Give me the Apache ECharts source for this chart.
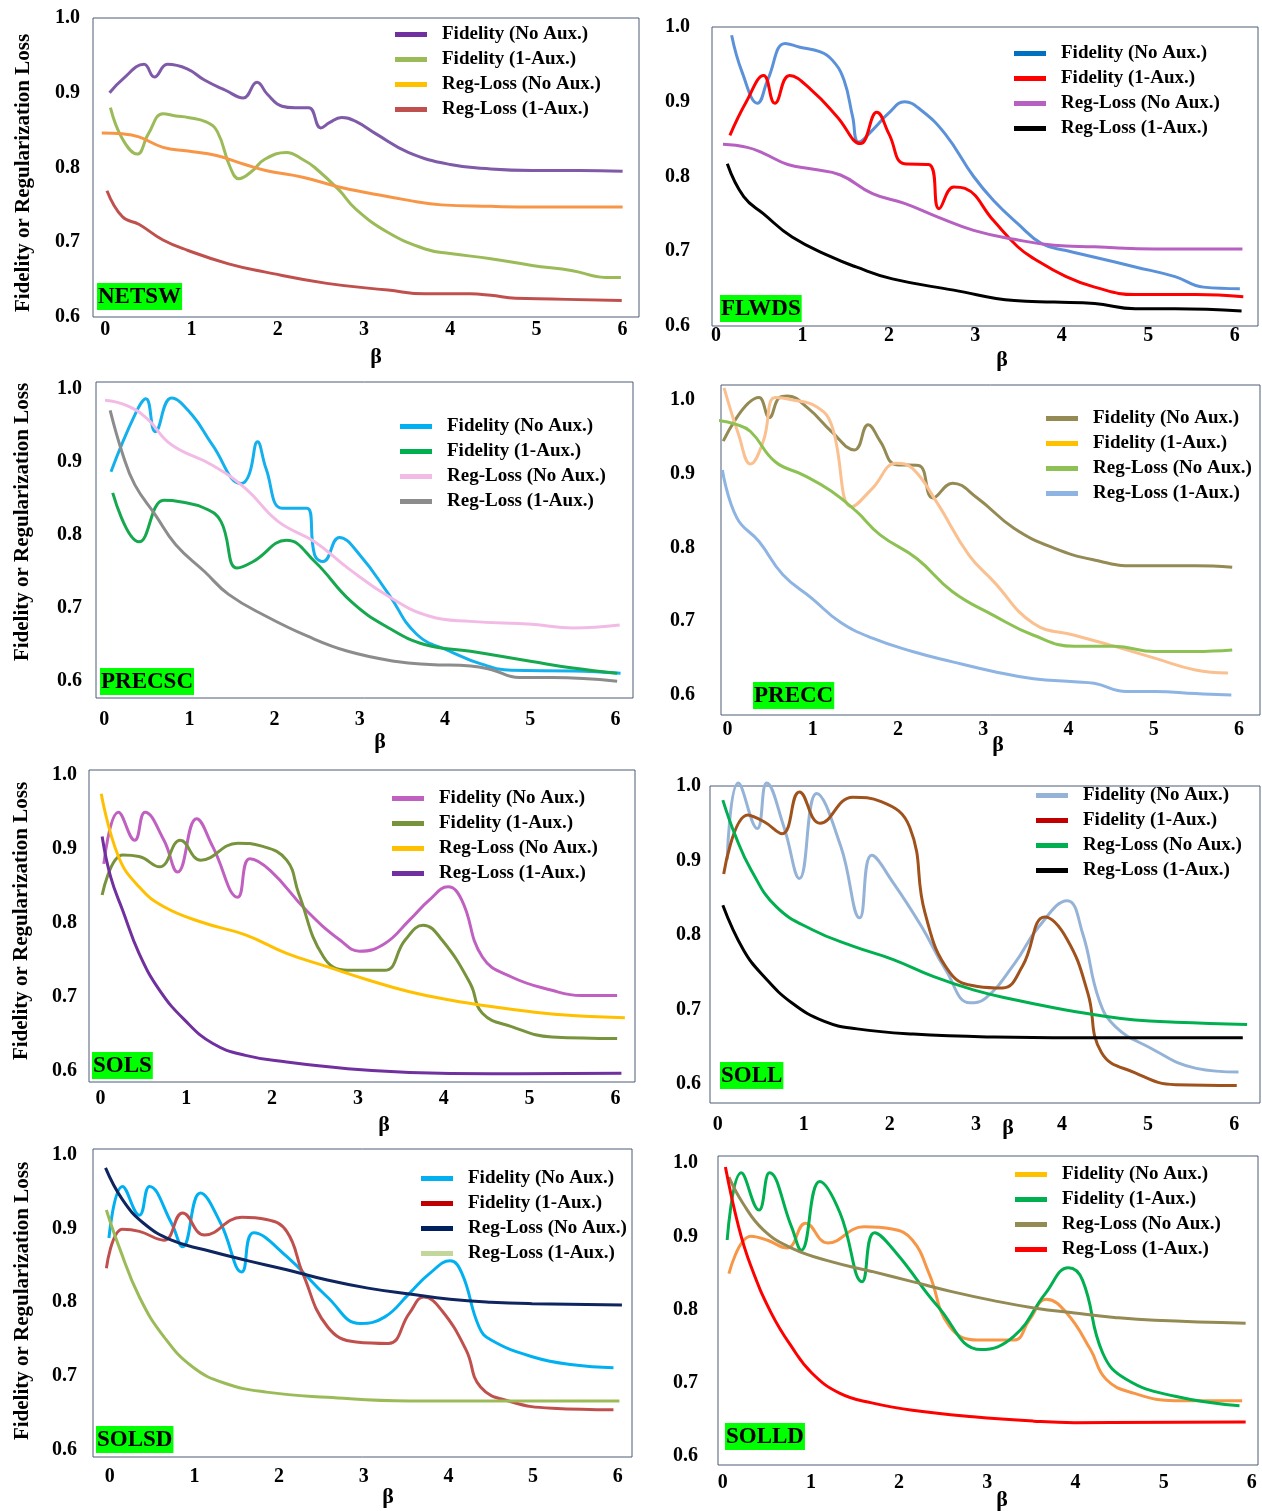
<!DOCTYPE html>
<html>
<head>
<meta charset="utf-8">
<script src="https://cdn.jsdelivr.net/npm/echarts@6/dist/echarts.min.js"></script>
<style>
  html, body { margin: 0; padding: 0; background: #fff; }
  #chart { width: 1262px; height: 1511px; }
</style>
</head>
<body>
<div id="chart"></div>
<script>
// ---- Tick labels and names ----
const xTickLabels = [0, 1, 2, 3, 4, 5, 6];
const yTickLabels = [0.6, 0.7, 0.8, 0.9, 1.0];
const seriesNames = ['Fidelity (No Aux.)', 'Fidelity (1-Aux.)', 'Reg-Loss (No Aux.)', 'Reg-Loss (1-Aux.)'];
const panelTags = ['NETSW', 'FLWDS', 'PRECSC', 'PRECC', 'SOLS', 'SOLL', 'SOLSD', 'SOLLD'];

// ---- NETSW: [beta, value] ----
const netswFidNoAux = [[0.05,0.900],[0.2,0.918],[0.45,0.938],[0.57,0.921],[0.72,0.938],[0.95,0.932],[1.15,0.917],[1.4,0.903],[1.6,0.893],[1.76,0.914],[1.88,0.898],[2.05,0.882],[2.2,0.880],[2.36,0.880],[2.5,0.853],[2.6,0.860],[2.74,0.867],[2.9,0.862],[3.14,0.845],[3.52,0.820],[4.0,0.804],[4.47,0.798],[4.95,0.796],[5.5,0.796],[6.0,0.795]];
const netswFid1Aux = [[0.06,0.880],[0.2,0.838],[0.37,0.818],[0.5,0.845],[0.67,0.872],[0.82,0.869],[0.96,0.867],[1.17,0.861],[1.3,0.848],[1.45,0.800],[1.55,0.785],[1.7,0.795],[1.85,0.811],[2.1,0.820],[2.3,0.810],[2.43,0.800],[2.71,0.770],[2.9,0.745],[3.28,0.713],[3.71,0.691],[4.0,0.685],[4.47,0.678],[4.95,0.669],[5.42,0.662],[5.8,0.653],[5.98,0.653]];
const netswRegNoAux = [[-0.04,0.846],[0.2,0.845],[0.39,0.841],[0.67,0.827],[0.96,0.822],[1.29,0.816],[1.62,0.804],[1.86,0.796],[2.29,0.787],[2.71,0.774],[3.05,0.766],[3.52,0.756],[3.9,0.750],[4.47,0.748],[4.95,0.747],[6.0,0.747]];
const netswReg1Aux = [[0.02,0.769],[0.2,0.734],[0.39,0.724],[0.67,0.703],[0.96,0.689],[1.43,0.671],[1.86,0.660],[2.57,0.645],[3.28,0.636],[3.71,0.631],[4.23,0.631],[4.47,0.629],[4.76,0.625],[5.18,0.624],[5.99,0.622]];

// ---- FLWDS ----
const flwdsFidNoAux = [[0.18,0.989],[0.3,0.940],[0.48,0.898],[0.6,0.930],[0.8,0.978],[0.97,0.973],[1.2,0.967],[1.35,0.955],[1.48,0.929],[1.58,0.880],[1.65,0.846],[1.81,0.862],[2.0,0.885],[2.18,0.900],[2.37,0.889],[2.65,0.857],[2.98,0.800],[3.21,0.768],[3.49,0.737],[3.77,0.710],[4.05,0.701],[4.38,0.692],[4.85,0.679],[5.31,0.666],[5.64,0.652],[6.06,0.650]];
const flwdsFid1Aux = [[0.16,0.855],[0.35,0.900],[0.55,0.935],[0.68,0.898],[0.85,0.935],[1.11,0.915],[1.4,0.880],[1.67,0.844],[1.86,0.886],[2.0,0.857],[2.18,0.817],[2.46,0.816],[2.58,0.757],[2.75,0.786],[2.88,0.784],[3.21,0.741],[3.49,0.706],[3.68,0.690],[4.05,0.666],[4.38,0.652],[4.85,0.642],[5.55,0.642],[6.1,0.639]];
const flwdsRegNoAux = [[0.08,0.843],[0.36,0.839],[0.55,0.831],[0.83,0.816],[1.11,0.810],[1.44,0.802],[1.81,0.777],[2.18,0.764],[2.56,0.746],[2.98,0.728],[3.45,0.716],[3.91,0.708],[4.38,0.706],[5.08,0.703],[6.09,0.703]];
const flwdsReg1Aux = [[0.13,0.817],[0.32,0.773],[0.55,0.750],[0.88,0.719],[1.34,0.692],[1.62,0.679],[2.04,0.663],[2.75,0.648],[3.45,0.634],[3.91,0.632],[4.38,0.630],[4.85,0.623],[5.31,0.623],[6.08,0.620]];

// ---- PRECSC ----
const precscFidNoAux = [[0.08,0.886],[0.36,0.964],[0.49,0.986],[0.6,0.941],[0.79,0.987],[1.03,0.964],[1.27,0.923],[1.61,0.870],[1.7,0.882],[1.8,0.927],[1.9,0.890],[2.09,0.836],[2.38,0.836],[2.47,0.772],[2.57,0.763],[2.76,0.796],[3.0,0.772],[3.34,0.718],[3.67,0.663],[4.06,0.640],[4.44,0.622],[4.78,0.614],[5.5,0.613],[6.06,0.610]];
const precscFid1Aux = [[0.1,0.857],[0.41,0.790],[0.7,0.847],[0.89,0.845],[1.18,0.836],[1.37,0.818],[1.56,0.754],[1.75,0.763],[2.14,0.792],[2.47,0.763],[2.9,0.708],[3.34,0.672],[3.77,0.649],[4.3,0.640],[5.02,0.626],[5.5,0.617],[6.02,0.610]];
const precscRegNoAux = [[0.01,0.984],[0.26,0.977],[0.5,0.959],[0.79,0.923],[1.27,0.895],[1.66,0.863],[2.04,0.818],[2.47,0.790],[2.86,0.754],[3.34,0.715],[3.82,0.688],[4.3,0.681],[5.02,0.677],[5.5,0.672],[6.05,0.676]];
const precscReg1Aux = [[0.07,0.970],[0.22,0.909],[0.36,0.868],[0.6,0.827],[0.84,0.786],[1.18,0.749],[1.46,0.718],[1.9,0.688],[2.38,0.661],[2.86,0.640],[3.43,0.626],[3.82,0.622],[4.3,0.620],[4.54,0.615],[4.87,0.604],[5.26,0.604],[6.02,0.599]];

// ---- PRECC ----
const preccFidNoAux = [[-0.05,0.944],[0.37,1.003],[0.49,0.976],[0.61,1.003],[0.7,1.005],[0.94,0.989],[1.22,0.957],[1.49,0.932],[1.65,0.966],[1.79,0.944],[1.98,0.912],[2.24,0.911],[2.41,0.867],[2.64,0.887],[2.93,0.867],[3.36,0.826],[3.83,0.799],[4.3,0.783],[4.78,0.775],[5.49,0.775],[5.92,0.773]];
const preccFid1Aux = [[-0.04,1.016],[0.13,0.953],[0.27,0.913],[0.42,0.944],[0.56,1.003],[0.75,1.000],[1.04,0.991],[1.22,0.966],[1.46,0.855],[1.7,0.880],[1.98,0.914],[2.17,0.907],[2.45,0.862],[2.83,0.790],[3.12,0.754],[3.59,0.697],[4.07,0.681],[4.54,0.666],[5.01,0.650],[5.49,0.634],[5.87,0.630]];
const preccRegNoAux = [[-0.11,0.972],[0.09,0.967],[0.27,0.957],[0.56,0.916],[0.89,0.898],[1.22,0.876],[1.51,0.849],[1.79,0.817],[2.22,0.785],[2.64,0.740],[3.12,0.708],[3.59,0.681],[4.07,0.666],[4.54,0.666],[5.01,0.659],[5.49,0.659],[5.92,0.661]];
const preccReg1Aux = [[-0.06,0.905],[0.11,0.840],[0.37,0.808],[0.65,0.763],[0.99,0.731],[1.32,0.699],[1.7,0.677],[2.17,0.659],[2.64,0.645],[3.12,0.632],[3.59,0.622],[4.07,0.618],[4.3,0.616],[4.68,0.605],[5.01,0.605],[5.49,0.602],[5.91,0.600]];

// ---- SOLS ----
const solsFidNoAux = [[0.04,0.880],[0.21,0.950],[0.4,0.912],[0.52,0.950],[0.74,0.912],[0.9,0.869],[1.12,0.941],[1.31,0.903],[1.6,0.835],[1.74,0.887],[1.98,0.871],[2.4,0.817],[2.79,0.777],[3.02,0.762],[3.31,0.772],[3.6,0.804],[3.83,0.831],[4.05,0.849],[4.21,0.831],[4.45,0.754],[4.79,0.727],[5.26,0.709],[5.6,0.702],[6.02,0.702]];
const solsFid1Aux = [[0.02,0.838],[0.26,0.892],[0.45,0.890],[0.69,0.876],[0.93,0.912],[1.17,0.885],[1.6,0.908],[1.88,0.904],[2.17,0.885],[2.31,0.840],[2.6,0.754],[2.88,0.736],[3.31,0.736],[3.55,0.777],[3.76,0.797],[3.98,0.777],[4.31,0.718],[4.45,0.678],[4.79,0.660],[5.26,0.646],[6.02,0.644]];
const solsRegNoAux = [[0.01,0.975],[0.21,0.890],[0.45,0.849],[0.74,0.822],[1.21,0.800],[1.69,0.784],[2.17,0.759],[2.64,0.741],[3.12,0.723],[3.6,0.707],[4.07,0.696],[4.55,0.687],[5.02,0.680],[5.5,0.675],[6.11,0.672]];
const solsReg1Aux = [[0.02,0.917],[0.12,0.862],[0.26,0.817],[0.45,0.759],[0.69,0.709],[0.98,0.669],[1.31,0.637],[1.69,0.621],[2.17,0.612],[2.88,0.603],[3.6,0.598],[4.55,0.596],[6.07,0.597]];

// ---- SOLL ----
const sollFidNoAux = [[0.11,0.901],[0.24,1.004],[0.46,0.943],[0.57,1.004],[0.77,0.945],[0.95,0.876],[1.15,0.990],[1.43,0.919],[1.65,0.823],[1.79,0.907],[2.04,0.870],[2.37,0.811],[2.65,0.753],[2.93,0.709],[3.11,0.715],[3.45,0.762],[3.73,0.811],[4.06,0.846],[4.24,0.802],[4.43,0.713],[4.62,0.677],[5.0,0.650],[5.56,0.621],[6.05,0.616]];
const sollFid1Aux = [[0.07,0.882],[0.35,0.961],[0.54,0.952],[0.75,0.936],[0.95,0.992],[1.19,0.950],[1.57,0.985],[1.9,0.979],[2.23,0.945],[2.41,0.829],[2.7,0.749],[3.02,0.731],[3.31,0.729],[3.54,0.758],[3.8,0.824],[4.06,0.794],[4.3,0.722],[4.46,0.642],[4.85,0.615],[5.32,0.599],[6.03,0.598]];
const sollRegNoAux = [[0.06,0.981],[0.21,0.932],[0.39,0.887],[0.68,0.838],[1.1,0.807],[1.57,0.785],[2.04,0.767],[2.51,0.744],[2.98,0.726],[3.45,0.713],[3.92,0.702],[4.38,0.693],[4.85,0.686],[5.32,0.683],[6.15,0.680]];
const sollReg1Aux = [[0.06,0.840],[0.3,0.780],[0.54,0.744],[0.86,0.709],[1.24,0.684],[1.62,0.674],[2.27,0.667],[3.21,0.663],[4.15,0.662],[6.1,0.662]];

// ---- SOLSD ----
const solsdFidNoAux = [[-0.01,0.887],[0.15,0.957],[0.35,0.918],[0.47,0.957],[0.73,0.907],[0.86,0.875],[1.07,0.948],[1.31,0.907],[1.56,0.841],[1.7,0.894],[2.09,0.862],[2.57,0.807],[2.96,0.771],[3.25,0.780],[3.54,0.812],[3.78,0.839],[4.02,0.856],[4.16,0.839],[4.36,0.767],[4.5,0.749],[4.99,0.726],[5.47,0.715],[5.95,0.711]];
const solsdFid1Aux = [[-0.04,0.846],[0.15,0.899],[0.35,0.896],[0.64,0.884],[0.86,0.921],[1.12,0.891],[1.56,0.915],[1.85,0.912],[2.09,0.896],[2.28,0.839],[2.57,0.767],[2.91,0.746],[3.29,0.744],[3.54,0.785],[3.71,0.807],[3.92,0.789],[4.21,0.735],[4.38,0.685],[4.74,0.665],[5.23,0.656],[5.95,0.654]];
const solsdRegNoAux = [[-0.05,0.982],[0.15,0.939],[0.4,0.907],[0.73,0.884],[1.12,0.871],[1.6,0.857],[2.09,0.844],[2.57,0.830],[3.05,0.819],[3.54,0.811],[4.02,0.804],[4.5,0.800],[4.99,0.798],[6.05,0.796]];
const solsdReg1Aux = [[-0.04,0.925],[0.11,0.875],[0.35,0.807],[0.64,0.753],[0.98,0.712],[1.36,0.690],[1.85,0.678],[2.57,0.671],[3.54,0.666],[6.02,0.666]];

// ---- SOLLD ----
const solldFidNoAux = [[0.07,0.849],[0.32,0.900],[0.5,0.895],[0.73,0.884],[0.94,0.918],[1.19,0.891],[1.6,0.913],[1.92,0.910],[2.15,0.895],[2.34,0.849],[2.57,0.777],[2.89,0.758],[3.3,0.758],[3.48,0.786],[3.67,0.814],[3.9,0.795],[4.17,0.745],[4.35,0.704],[4.67,0.685],[5.13,0.675],[5.89,0.675]];
const solldFid1Aux = [[0.05,0.895],[0.21,0.987],[0.41,0.936],[0.53,0.987],[0.78,0.913],[0.89,0.881],[1.1,0.975],[1.33,0.932],[1.58,0.838],[1.72,0.905],[1.97,0.877],[2.44,0.804],[2.93,0.745],[3.3,0.763],[3.66,0.822],[3.92,0.857],[4.08,0.840],[4.31,0.740],[4.58,0.704],[5.13,0.681],[5.86,0.668]];
const solldRegNoAux = [[0.07,0.981],[0.23,0.945],[0.46,0.909],[0.78,0.884],[1.24,0.865],[1.69,0.852],[2.15,0.838],[2.61,0.824],[3.07,0.812],[3.53,0.802],[3.99,0.795],[4.44,0.789],[4.9,0.785],[5.93,0.781]];
const solldReg1Aux = [[0.03,0.995],[0.18,0.913],[0.32,0.859],[0.55,0.795],[0.78,0.749],[1.01,0.713],[1.33,0.685],[1.69,0.672],[2.15,0.662],[2.84,0.653],[3.53,0.647],[3.99,0.645],[5.93,0.646]];

const panelSeries = [
  [netswFidNoAux, netswFid1Aux, netswRegNoAux, netswReg1Aux],
  [flwdsFidNoAux, flwdsFid1Aux, flwdsRegNoAux, flwdsReg1Aux],
  [precscFidNoAux, precscFid1Aux, precscRegNoAux, precscReg1Aux],
  [preccFidNoAux, preccFid1Aux, preccRegNoAux, preccReg1Aux],
  [solsFidNoAux, solsFid1Aux, solsRegNoAux, solsReg1Aux],
  [sollFidNoAux, sollFid1Aux, sollRegNoAux, sollReg1Aux],
  [solsdFidNoAux, solsdFid1Aux, solsdRegNoAux, solsdReg1Aux],
  [solldFidNoAux, solldFid1Aux, solldRegNoAux, solldReg1Aux]
];

// ---- Styling: line colours and legend swatch colours per panel ----
const lineColors = [
  ['#7F5AA8', '#9BBB59', '#F79646', '#C0504D'],
  ['#5B91D9', '#FF0000', '#B660C2', '#000000'],
  ['#14B0EE', '#16A84E', '#F2BBE6', '#8C8C8C'],
  ['#948A54', '#FAC090', '#8DC153', '#8DB4E2'],
  ['#C060C0', '#77933C', '#FFC000', '#7030A0'],
  ['#95B3D7', '#A0521C', '#00B050', '#000000'],
  ['#00B0F0', '#C0504D', '#0F2560', '#9BBB59'],
  ['#F79646', '#00B050', '#948A54', '#FF0000']
];
const swatchColors = [
  ['#7030A0', '#9BBB59', '#FFC000', '#C0504D'],
  ['#0070C0', '#FF0000', '#B660C2', '#000000'],
  ['#00B0F0', '#00B050', '#F2BBE6', '#8C8C8C'],
  ['#948A54', '#FFC000', '#8DC153', '#8DB4E2'],
  ['#C060C0', '#77933C', '#FFC000', '#7030A0'],
  ['#95B3D7', '#C00000', '#00B050', '#000000'],
  ['#00B0F0', '#C00000', '#002060', '#C3D69B'],
  ['#FFC000', '#00B050', '#948A54', '#FF0000']
];

// ---- Layout of each panel (pixels) and axis extents ----
const layouts = [
  { grid: [93, 18, 546, 299],  x: [-0.142, 6.19], y: [0.6, 1.0],    xm: 3,  ym: 13, legend: [395, 25],   tag: [97, 283],   beta: [376, 357],   yTitle: [24, 173] },
  { grid: [712, 27, 546, 299], x: [-0.047, 6.27], y: [0.6, 1.0],    xm: 0,  ym: 22, legend: [1014, 44],  tag: [720, 295],  beta: [1002, 360] },
  { grid: [96, 382, 537, 316], x: [-0.096, 6.206], y: [0.576, 1.009], xm: 12, ym: 14, legend: [400, 417],  tag: [100, 668],  beta: [380, 742],   yTitle: [23, 522] },
  { grid: [721, 385, 539, 330], x: [-0.076, 6.246], y: [0.573, 1.020], xm: 5,  ym: 26, legend: [1046, 409], tag: [753, 682],  beta: [998, 745] },
  { grid: [89, 770, 546, 312], x: [-0.133, 6.228], y: [0.585, 1.007], xm: 7,  ym: 12, legend: [392, 789],  tag: [92, 1052],  beta: [384, 1125],  yTitle: [22, 921] },
  { grid: [710, 786, 550, 317], x: [-0.089, 6.30], y: [0.5745, 1.0],  xm: 12, ym: 9,  legend: [1036, 786], tag: [720, 1062], beta: [1008, 1128] },
  { grid: [93, 1149, 539, 308], x: [-0.198, 6.169], y: [0.59, 1.0077], xm: 10, ym: 16, legend: [421, 1169], tag: [96, 1426],  beta: [388, 1497],  yTitle: [23, 1301] },
  { grid: [718, 1156, 540, 309], x: [-0.054, 6.07], y: [0.587, 1.01],  xm: 8,  ym: 20, legend: [1015, 1165], tag: [725, 1423], beta: [1002, 1500] }
];

const FONT = '"Liberation Serif", "Times New Roman", serif';
const AXIS_TEXT = { fontFamily: FONT, fontWeight: 'bold', fontSize: 20, color: '#000' };

const grids = [], xAxes = [], yAxes = [], series = [], legends = [], titles = [], graphics = [];

layouts.forEach((L, p) => {
  grids.push({
    left: L.grid[0], top: L.grid[1], width: L.grid[2], height: L.grid[3],
    show: true, borderColor: '#4D5B76', borderWidth: 1, backgroundColor: 'transparent'
  });
  xAxes.push({
    type: 'value', gridIndex: p, min: L.x[0], max: L.x[1],
    axisLine: { show: false }, axisTick: { show: false }, splitLine: { show: false },
    axisLabel: Object.assign({ customValues: xTickLabels, margin: L.xm, formatter: v => String(Math.round(v)) }, AXIS_TEXT)
  });
  yAxes.push({
    type: 'value', gridIndex: p, min: L.y[0], max: L.y[1],
    axisLine: { show: false }, axisTick: { show: false }, splitLine: { show: false },
    axisLabel: Object.assign({ customValues: yTickLabels, margin: L.ym, formatter: v => v.toFixed(1) }, AXIS_TEXT)
  });
  panelSeries[p].forEach((data, k) => {
    series.push({
      type: 'line', name: seriesNames[k], xAxisIndex: p, yAxisIndex: p,
      data: data, showSymbol: false, smooth: 0.45, clip: false,
      lineStyle: { color: lineColors[p][k], width: 3 },
      itemStyle: { color: lineColors[p][k] },
      silent: true, animation: false
    });
  });
  legends.push({
    left: L.legend[0], top: L.legend[1], orient: 'vertical', padding: 0,
    itemWidth: 32, itemHeight: 5, itemGap: 6, icon: 'rect', selectedMode: false,
    data: seriesNames.map((n, k) => ({ name: n, itemStyle: { color: swatchColors[p][k] } })),
    formatter: '{t|{name}}',
    textStyle: { rich: { t: { fontFamily: FONT, fontWeight: 'bold', fontSize: 19, lineHeight: 20, color: '#000', padding: [0, 0, 0, 10] } } }
  });
  titles.push({
    text: panelTags[p], left: L.tag[0], top: L.tag[1], padding: [1, 1, 0, 1],
    backgroundColor: '#00FF00',
    textStyle: { fontFamily: FONT, fontWeight: 'bold', fontSize: 23, lineHeight: 26, color: '#000' }
  });
  graphics.push({
    type: 'text', x: L.beta[0], y: L.beta[1],
    style: { text: 'β', font: 'bold 22px ' + FONT, fill: '#000', align: 'center', verticalAlign: 'middle' }
  });
  if (L.yTitle) {
    graphics.push({
      type: 'text', x: L.yTitle[0], y: L.yTitle[1], rotation: Math.PI / 2,
      style: { text: 'Fidelity or Regularization Loss', font: 'bold 21px ' + FONT, fill: '#000', align: 'center', verticalAlign: 'middle' }
    });
  }
});

const chart = echarts.init(document.getElementById('chart'), null, { renderer: 'canvas' });
chart.setOption({
  backgroundColor: '#ffffff',
  animation: false,
  grid: grids,
  xAxis: xAxes,
  yAxis: yAxes,
  legend: legends,
  title: titles,
  graphic: graphics,
  series: series
});
</script>
</body>
</html>
